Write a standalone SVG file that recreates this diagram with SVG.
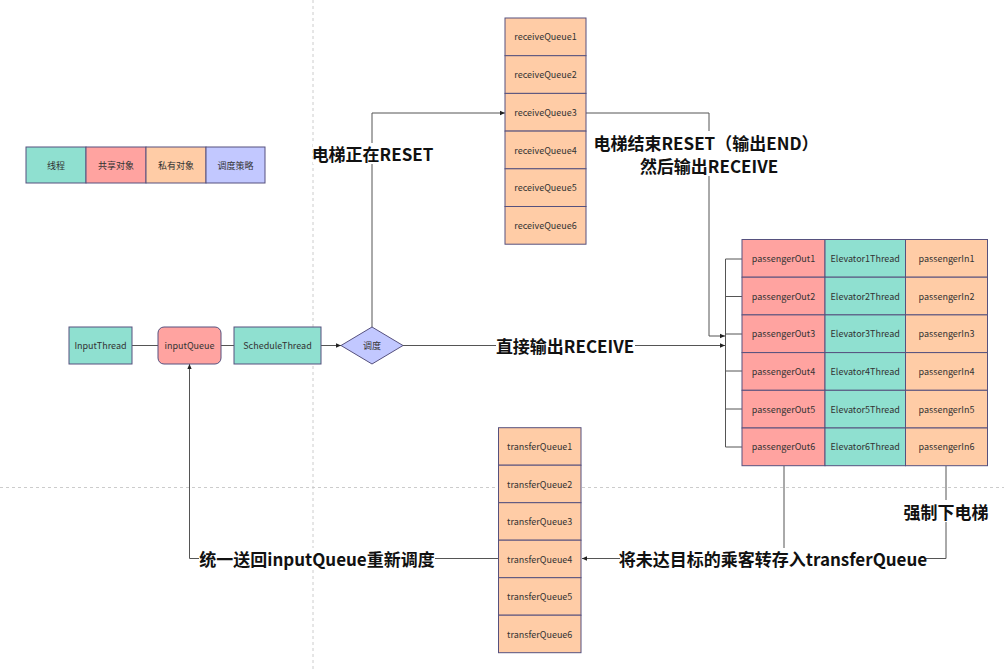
<svg xmlns="http://www.w3.org/2000/svg" width="1004" height="669" viewBox="0 0 1004 669">
<style>
text{font-family:"Noto Sans CJK SC","Noto Sans",sans-serif;fill:#333;text-anchor:middle;dominant-baseline:central}
.s{font-size:9px}
.b{font-size:17px;font-weight:bold;fill:#111}
.t{fill:#8FE0D0;stroke:#56517e;stroke-width:1}
.r{fill:#FFA3A0;stroke:#56517e;stroke-width:1}
.p{fill:#FFCCA6;stroke:#56517e;stroke-width:1}
.v{fill:#C2C8FF;stroke:#56517e;stroke-width:1}
.e{fill:none;stroke:#555;stroke-width:1}
.g{stroke:#ccc;stroke-width:1;stroke-dasharray:3 3}
.bg{fill:#fff}
</style>
<defs>
<marker id="a" viewBox="0 0 8 8" refX="7" refY="4" markerWidth="6" markerHeight="6" orient="auto" markerUnits="userSpaceOnUse"><path d="M0,1 L7,4 L0,7 Z" fill="#222"/></marker>
</defs>
<rect width="1004" height="669" fill="#fff"/>
<g id="grid">
<line class="g" x1="313" y1="0" x2="313" y2="669"/>
<line class="g" x1="0" y1="487.5" x2="1004" y2="487.5"/>
</g>
<g id="legend">
<rect class="t" x="26" y="147" width="60" height="36"/><text class="s" x="56" y="165">线程</text>
<rect class="r" x="86" y="147" width="60" height="36"/><text class="s" x="116" y="165">共享对象</text>
<rect class="p" x="146" y="147" width="60" height="36"/><text class="s" x="176" y="165">私有对象</text>
<rect class="v" x="206" y="147" width="59" height="36"/><text class="s" x="235.5" y="165">调度策略</text>
</g>
<g id="connectors">
<path class="e" d="M132,345.5 H158"/>
<path class="e" d="M221,345.5 H234"/>
<path class="e" d="M321,345.5 H341" marker-end="url(#a)"/>
<path class="e" d="M372,327 V113 H505" marker-end="url(#a)"/>
<path class="e" d="M403,345.5 H725" marker-end="url(#a)"/>
<path class="e" d="M586,113 H709 V336 H725" marker-end="url(#a)"/>
<path class="e" d="M742,259 H725.5 V447 H742 M725.5,296.5 H742 M725.5,334 H742 M725.5,371 H742 M725.5,409 H742"/>
<path class="e" d="M784,466 V558.5"/>
<path class="e" d="M946,466 V558.5 H582" marker-end="url(#a)"/>
<path class="e" d="M498,558.5 H189.5 V364" marker-end="url(#a)"/>
<rect class="bg" x="313" y="143" width="119" height="21"/>
<text class="b" x="372.5" y="153">电梯正在RESET</text>
<rect class="bg" x="496" y="335" width="139" height="21"/>
<text class="b" x="565" y="345">直接输出RECEIVE</text>
<rect class="bg" x="596" y="131" width="220" height="45"/>
<text class="b" x="706" y="142">电梯结束RESET（输出END）</text>
<text class="b" x="709" y="165">然后输出RECEIVE</text>
<rect class="bg" x="903" y="500" width="86" height="22"/>
<text class="b" x="946" y="511">强制下电梯</text>
<rect class="bg" x="620" y="548" width="306" height="21"/>
<text class="b" x="773" y="558">将未达目标的乘客转存入transferQueue</text>
<rect class="bg" x="199" y="548" width="236" height="21"/>
<text class="b" x="317" y="558">统一送回inputQueue重新调度</text>
</g>
<g id="InputThread"><rect class="t" x="69" y="327" width="63" height="37"/><text class="s" x="100.5" y="345.5">InputThread</text></g>
<g id="inputQueue"><rect class="r" x="158" y="327" width="63" height="37" rx="6"/><text class="s" x="189.5" y="345.5">inputQueue</text></g>
<g id="ScheduleThread"><rect class="t" x="234" y="327" width="87" height="37"/><text class="s" x="277.5" y="345.5">ScheduleThread</text></g>
<g id="dispatch"><path class="v" d="M372,327 L403,345.5 L372,364 L341,345.5 Z"/><text class="s" x="372" y="345.5">调度</text></g>
<g id="receiveQueues">
<rect class="p" x="505" y="18" width="81" height="37.7"/><text class="s" x="545.5" y="36.9">receiveQueue1</text>
<rect class="p" x="505" y="55.7" width="81" height="37.7"/><text class="s" x="545.5" y="74.6">receiveQueue2</text>
<rect class="p" x="505" y="93.4" width="81" height="37.7"/><text class="s" x="545.5" y="112.3">receiveQueue3</text>
<rect class="p" x="505" y="131.1" width="81" height="37.7"/><text class="s" x="545.5" y="150">receiveQueue4</text>
<rect class="p" x="505" y="168.8" width="81" height="37.7"/><text class="s" x="545.5" y="187.7">receiveQueue5</text>
<rect class="p" x="505" y="206.5" width="81" height="37.7"/><text class="s" x="545.5" y="225.4">receiveQueue6</text>
</g>
<g id="elevators">
<rect class="r" x="742" y="239.5" width="83" height="37.7"/><text class="s" x="783.5" y="258.3">passengerOut1</text>
<rect class="t" x="825" y="239.5" width="80.5" height="37.7"/><text class="s" x="865.2" y="258.3">Elevator1Thread</text>
<rect class="p" x="905.5" y="239.5" width="82" height="37.7"/><text class="s" x="946.5" y="258.3">passengerIn1</text>
<rect class="r" x="742" y="277.2" width="83" height="37.7"/><text class="s" x="783.5" y="296">passengerOut2</text>
<rect class="t" x="825" y="277.2" width="80.5" height="37.7"/><text class="s" x="865.2" y="296">Elevator2Thread</text>
<rect class="p" x="905.5" y="277.2" width="82" height="37.7"/><text class="s" x="946.5" y="296">passengerIn2</text>
<rect class="r" x="742" y="314.9" width="83" height="37.7"/><text class="s" x="783.5" y="333.7">passengerOut3</text>
<rect class="t" x="825" y="314.9" width="80.5" height="37.7"/><text class="s" x="865.2" y="333.7">Elevator3Thread</text>
<rect class="p" x="905.5" y="314.9" width="82" height="37.7"/><text class="s" x="946.5" y="333.7">passengerIn3</text>
<rect class="r" x="742" y="352.6" width="83" height="37.7"/><text class="s" x="783.5" y="371.4">passengerOut4</text>
<rect class="t" x="825" y="352.6" width="80.5" height="37.7"/><text class="s" x="865.2" y="371.4">Elevator4Thread</text>
<rect class="p" x="905.5" y="352.6" width="82" height="37.7"/><text class="s" x="946.5" y="371.4">passengerIn4</text>
<rect class="r" x="742" y="390.3" width="83" height="37.7"/><text class="s" x="783.5" y="409.1">passengerOut5</text>
<rect class="t" x="825" y="390.3" width="80.5" height="37.7"/><text class="s" x="865.2" y="409.1">Elevator5Thread</text>
<rect class="p" x="905.5" y="390.3" width="82" height="37.7"/><text class="s" x="946.5" y="409.1">passengerIn5</text>
<rect class="r" x="742" y="428" width="83" height="37.7"/><text class="s" x="783.5" y="446.8">passengerOut6</text>
<rect class="t" x="825" y="428" width="80.5" height="37.7"/><text class="s" x="865.2" y="446.8">Elevator6Thread</text>
<rect class="p" x="905.5" y="428" width="82" height="37.7"/><text class="s" x="946.5" y="446.8">passengerIn6</text>
</g>
<g id="transferQueues">
<rect class="p" x="498.5" y="427.7" width="82.5" height="37.5"/><text class="s" x="539.7" y="446.5">transferQueue1</text>
<rect class="p" x="498.5" y="465.2" width="82.5" height="37.5"/><text class="s" x="539.7" y="484">transferQueue2</text>
<rect class="p" x="498.5" y="502.7" width="82.5" height="37.5"/><text class="s" x="539.7" y="521.5">transferQueue3</text>
<rect class="p" x="498.5" y="540.2" width="82.5" height="37.5"/><text class="s" x="539.7" y="559">transferQueue4</text>
<rect class="p" x="498.5" y="577.7" width="82.5" height="37.5"/><text class="s" x="539.7" y="596.5">transferQueue5</text>
<rect class="p" x="498.5" y="615.2" width="82.5" height="37.5"/><text class="s" x="539.7" y="634">transferQueue6</text>
</g>
</svg>
